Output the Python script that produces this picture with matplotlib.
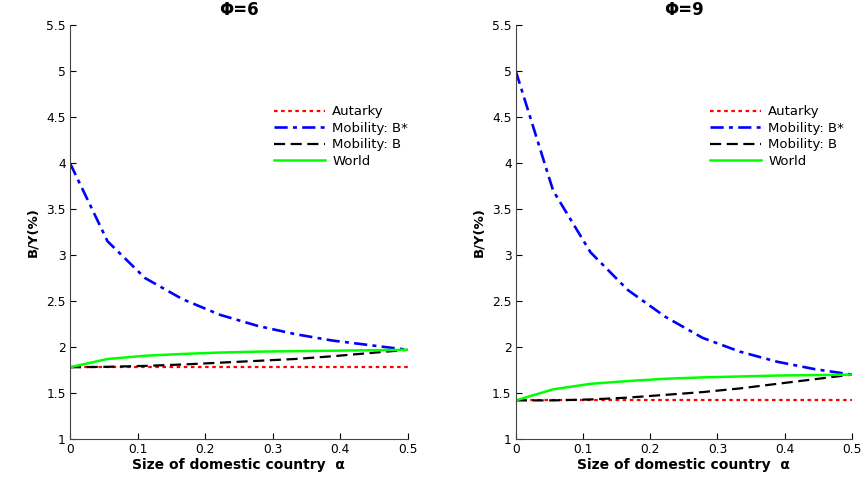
""" B/Y under autarky vs mobility, two Phi values """

import numpy as np
from matplotlib import pyplot as plt

plt.rcParams['font.family'] = ['DejaVu Sans']

# size of domestic country
alpha = np.linspace(0, 0.5, 10)

# Phi = 6
aut_6 = [1.78] * 10
bstar_6 = [4.00, 3.15, 2.75, 2.52, 2.35, 2.23, 2.14, 2.07, 2.02, 1.97]
b_6 = [1.78, 1.785, 1.795, 1.81, 1.83, 1.85, 1.87, 1.90, 1.935, 1.97]
world_6 = [1.78, 1.87, 1.905, 1.925, 1.94, 1.95, 1.955, 1.96, 1.965, 1.97]

# Phi = 9
aut_9 = [1.42] * 10
bstar_9 = [5.00, 3.70, 3.03, 2.62, 2.33, 2.10, 1.95, 1.84, 1.76, 1.70]
b_9 = [1.42, 1.42, 1.43, 1.45, 1.48, 1.51, 1.55, 1.60, 1.65, 1.70]
world_9 = [1.42, 1.54, 1.60, 1.63, 1.655, 1.67, 1.68, 1.69, 1.695, 1.70]

panels = [
    ('\u03a6=6', aut_6, bstar_6, b_6, world_6, [0.081, 0.0835, 0.391, 0.864], 0.589),
    ('\u03a6=9', aut_9, bstar_9, b_9, world_9, [0.597, 0.0835, 0.389, 0.864], 0.563),
]

fig = plt.figure(figsize=(8.64, 4.79), dpi=100)

for title, aut, bstar, b, world, rect, leg_x in panels:
    ax = fig.add_axes(rect)
    ax.plot(alpha, aut, color='red', ls=(0, (1.6, 1.6)), lw=1.6, label='Autarky')
    ax.plot(alpha, bstar, color='blue', ls=(0, (5, 2, 1.5, 2)), lw=1.9, label='Mobility: B*')
    ax.plot(alpha, b, color='black', ls=(0, (5, 2.5)), lw=1.6, label='Mobility: B')
    ax.plot(alpha, world, color='lime', ls='-', lw=1.8, label='World')

    ax.set_xlim(0, 0.5)
    ax.set_ylim(1, 5.5)
    ax.set_xticks(np.arange(0, 0.51, 0.1))
    ax.set_xticklabels(['0', '0.1', '0.2', '0.3', '0.4', '0.5'])
    ax.set_yticks(np.arange(1, 5.51, 0.5))
    ax.set_yticklabels(['1', '1.5', '2', '2.5', '3', '3.5', '4', '4.5', '5', '5.5'])
    ax.tick_params(direction='in', length=4, labelsize=8.8, width=0.8, pad=3)
    for side in ['left', 'bottom']:
        ax.spines[side].set_color('#444444')
    ax.spines['top'].set_visible(False)
    ax.spines['right'].set_visible(False)
    ax.set_title(title, fontsize=12, fontweight='bold', pad=7)
    ax.set_xlabel('Size of domestic country  \u03b1', fontsize=10, fontweight='bold', labelpad=1)
    ax.set_ylabel('B/Y(%)', fontsize=9.5, fontweight='bold', labelpad=5)
    ax.legend(loc='upper left', bbox_to_anchor=(leg_x, 0.819), frameon=False,
              fontsize=9.5, handlelength=3.86, handletextpad=0.53, labelspacing=0.27,
              borderaxespad=0)

plt.savefig('out.png', dpi=100)
